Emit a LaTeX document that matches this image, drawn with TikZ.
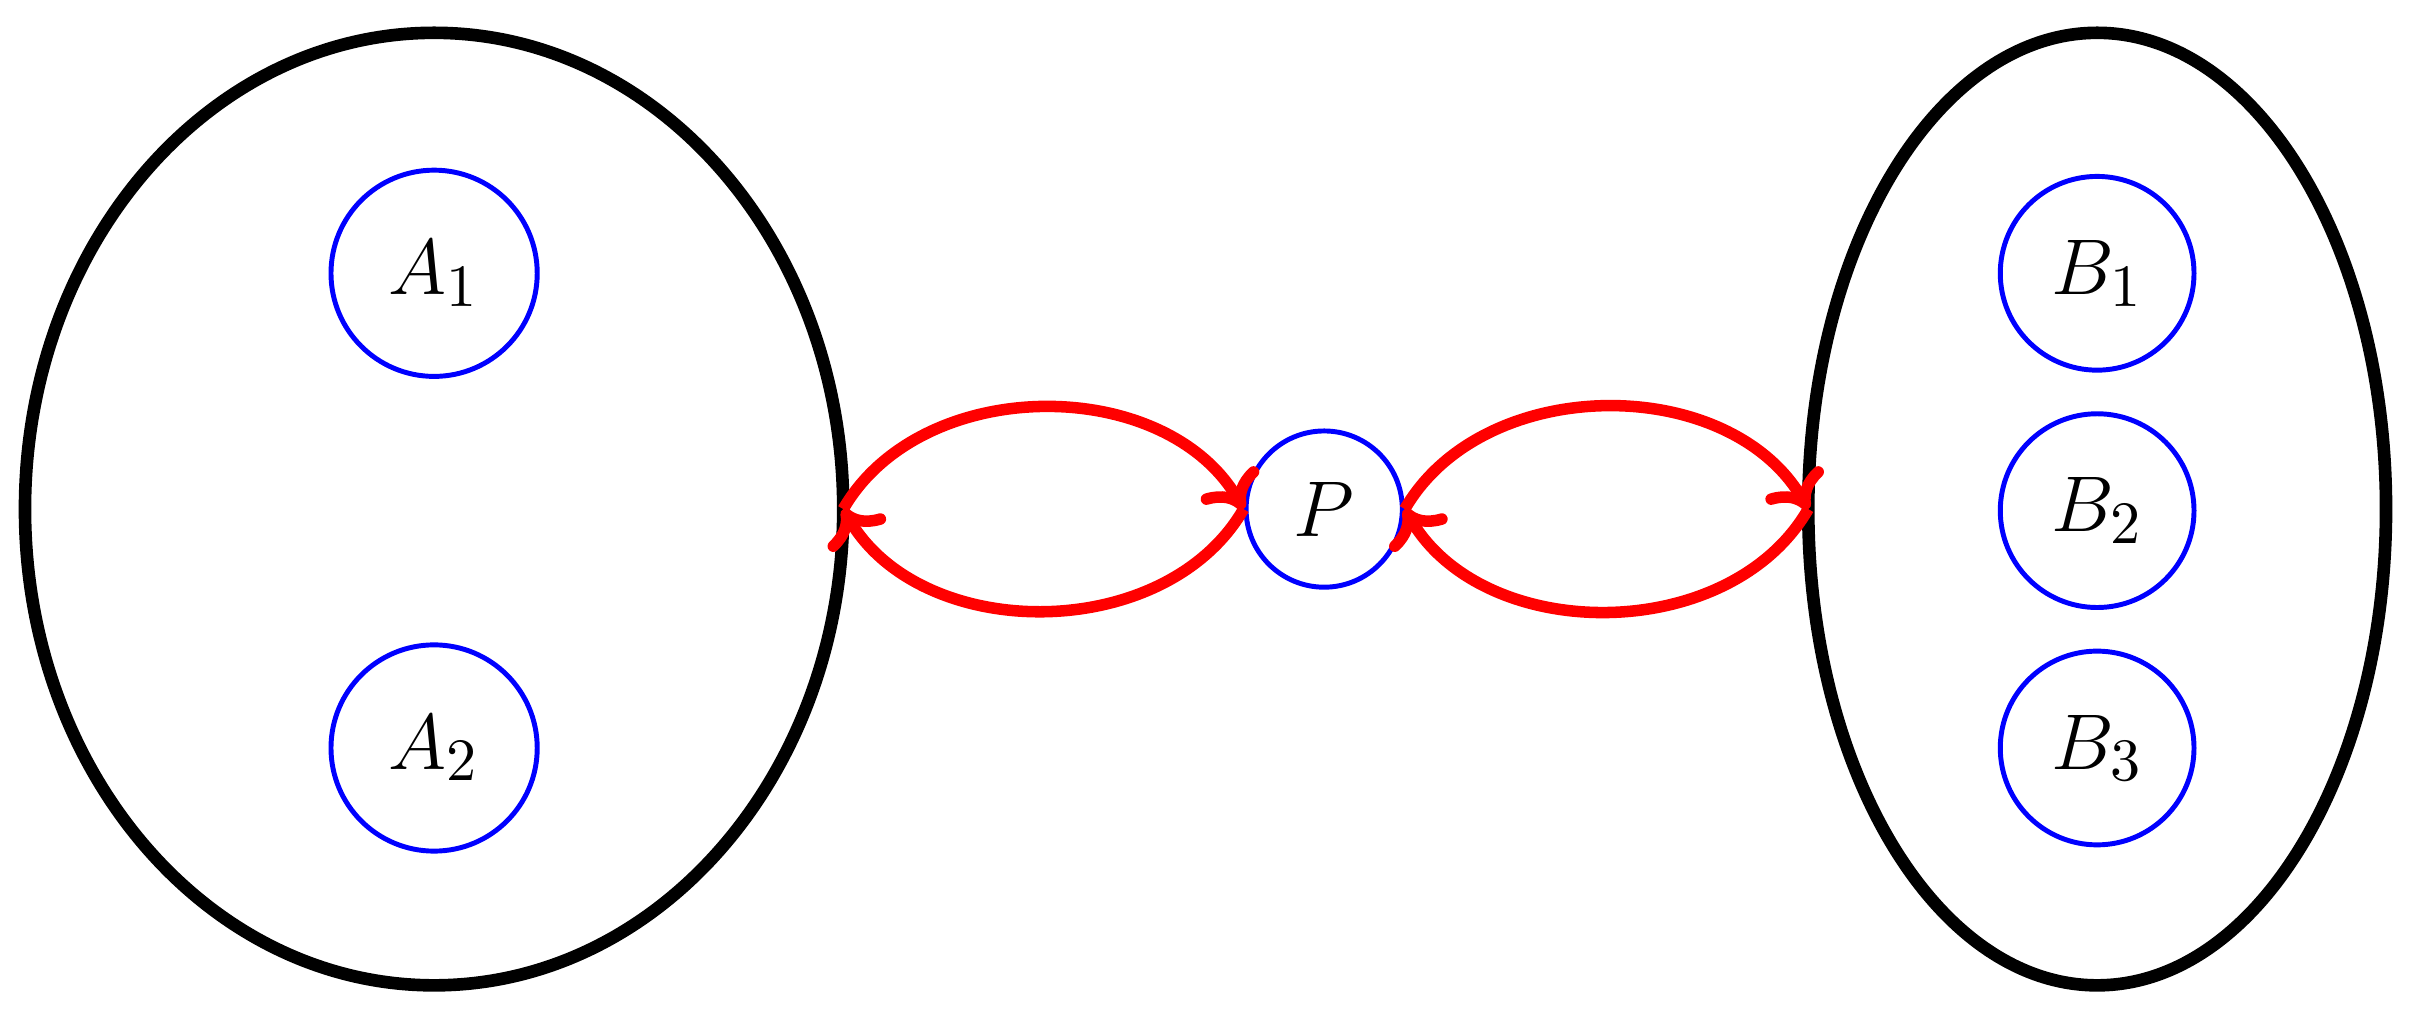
\documentclass[tikz,border=0pt]{standalone}
\usetikzlibrary{arrows.meta}
\begin{document}
\begin{tikzpicture}[x=0.01cm,y=-0.01cm,
  grp/.style={draw=black,line width=2.3pt},
  elem/.style={draw=blue,line width=0.9pt,circle,inner sep=0pt,font=\fontsize{15}{18}\selectfont},
  rel/.style={draw=red,line width=2.1pt,-{To[length=6pt,width=12pt]}}]
\useasboundingbox (0,0) rectangle (1560,654);
\draw[grp] (278,326) ellipse [x radius=262,y radius=305];
\draw[grp] (1343,326) ellipse [x radius=185,y radius=305];
\coordinate (L) at (540,326);
\coordinate (R) at (1158,326);
\node[elem,minimum size=1.32cm] (A1) at (278,175) {$A_1$};
\node[elem,minimum size=1.32cm] (A2) at (278,479) {$A_2$};
\node[elem,minimum size=1.24cm] (B1) at (1343,175) {$B_1$};
\node[elem,minimum size=1.24cm] (B2) at (1343,327) {$B_2$};
\node[elem,minimum size=1.24cm] (B3) at (1343,479) {$B_3$};
\node[elem,minimum size=1.0cm] (P) at (848,326) {$P$};
\draw[rel] (L) to[out=60,in=120,looseness=1.0] (P.west);
\draw[rel] (P.west) to[out=-120,in=-60,looseness=1.0] (L);
\draw[rel] (P.east) to[out=60,in=120,looseness=1.0] (R);
\draw[rel] (R) to[out=-120,in=-60,looseness=1.0] (P.east);
\end{tikzpicture}
\end{document}
